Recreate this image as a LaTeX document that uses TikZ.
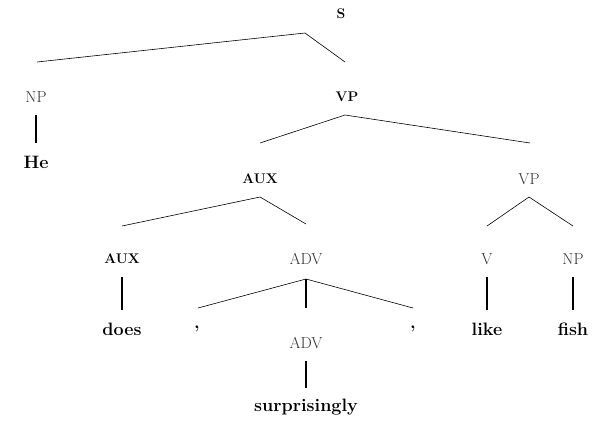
\documentclass[tikz,border=0pt]{standalone}
\usepackage{tikz}
\usetikzlibrary{calc}

\begin{document}
\begin{tikzpicture}[x=1bp, y=-1bp,
  cat/.style={font=\fontsize{16}{18}\selectfont, text=black!80},
  bcat/.style={font=\fontsize{14}{16}\selectfont\bfseries},
  word/.style={font=\fontsize{18}{21}\selectfont\bfseries},
  branch/.style={line width=0.6pt},
  unary/.style={line width=1.6pt}]
\useasboundingbox (0,0) rectangle (592,423);
% categories
\node[bcat] (s) at (341,14) {S};
\node[cat] (np) at (36,97) {NP};
\node[bcat] (vp) at (347,97) {VP};
\node[bcat] (aux) at (260,179) {AUX};
\node[cat] (vpb) at (529,179) {VP};
\node[bcat] (auxb) at (122,259) {AUX};
\node[cat] (adv) at (306,259) {ADV};
\node[cat] (v) at (487,259) {V};
\node[cat] (npb) at (573,259) {NP};
\node[cat] (advb) at (306,343) {ADV};
% words
\node[word] (he) at (36,162) {He};
\node[word] (does) at (122,329) {does};
\node[word] (cma) at (197,329) {,};
\node[word] (cmb) at (413,329) {,};
\node[word] (like) at (487,329) {like};
\node[word] (fish) at (573,329) {fish};
\node[word] (surp) at (306,407) {surprisingly};
% branches
\coordinate (s-top) at ($(s)+(-36,19)$);
\draw[branch] ($(np)+(1,-35)$) -- (s-top) -- ($(vp)+(-2,-35)$);
\draw[branch] ($(aux)+(0,-36)$) -- ($(vp)+(-2,18)$) -- ($(vpb)+(1,-36)$);
\draw[branch] ($(auxb)+(0,-33)$) -- ($(aux)+(0,18)$) -- ($(adv)+(0,-35)$);
\draw[branch] ($(v)+(0,-33)$) -- ($(vpb)+(0,18)$) -- ($(npb)+(0,-33)$);
\draw[branch] ($(cma)+(1,-21)$) -- ($(adv)+(0,20)$) -- ($(cmb)+(0,-21)$);
\draw[unary] ($(adv)+(0,20)$) -- ($(advb)+(0,-35)$);
% unary lines down to the words
\foreach \a/\b in {np/he, auxb/does, v/like, npb/fish, advb/surp}
  \draw[unary] ($(\a)+(0,18)$) -- ($(\b)+(0,-19)$);
\end{tikzpicture}
\end{document}
